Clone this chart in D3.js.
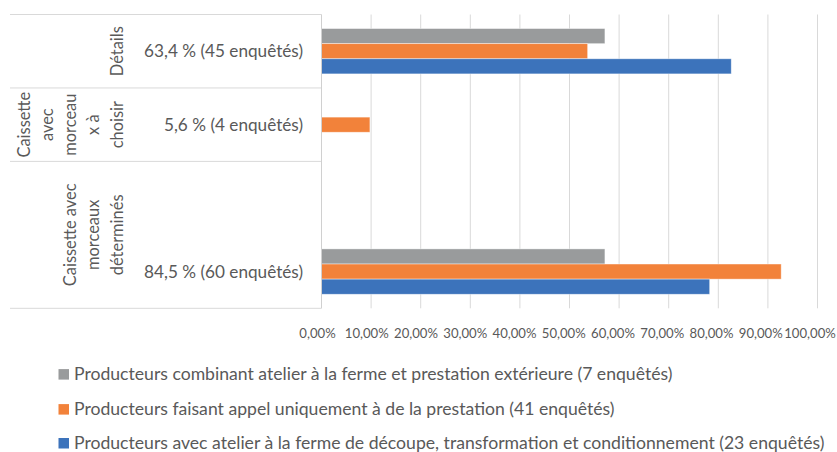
<!DOCTYPE html>
<html>
<head>
<meta charset="utf-8">
<script src="https://cdn.jsdelivr.net/npm/d3@7/dist/d3.min.js"></script>
<style>
  html, body { margin: 0; padding: 0; background: #fff; }
  svg { display: block; }
  text { font-family: Lato, "Open Sans", sans-serif; fill: #595959; }
</style>
</head>
<body>
<svg id="chart" width="837" height="452"></svg>
<script>
// ---------- data ----------
const categories = ["63,4 % (45 enquêtés)", "5,6 % (4 enquêtés)", "", "84,5 % (60 enquêtés)"];
const groupLabels = ["Détails", "Caissette avec morceaux à choisir", "Caissette avec morceaux déterminés"];
const groupLines = [["Détails"], ["Caissette", "avec", "morceau", "x à", "choisir"], ["Caissette avec", "morceaux", "déterminés"]];
const groupStart = [0, 1, 2];
const groupSize = [1, 1, 2];
const seriesNames = [
  "Producteurs combinant atelier à la ferme et prestation extérieure (7 enquêtés)",
  "Producteurs faisant appel uniquement à de la prestation (41 enquêtés)",
  "Producteurs avec atelier à la ferme de découpe, transformation et conditionnement (23 enquêtés)"
];
const seriesGray = [57.14, null, null, 57.14];
const seriesOrange = [53.66, 9.76, null, 92.68];
const seriesBlue = [82.61, null, null, 78.26];
const xTicks = [0, 10, 20, 30, 40, 50, 60, 70, 80, 90, 100];
const xTickLabels = ["0,00%", "10,00%", "20,00%", "30,00%", "40,00%", "50,00%", "60,00%", "70,00%", "80,00%", "90,00%", "100,00%"];

const seriesValues = [seriesGray, seriesOrange, seriesBlue];
const colors = ["#999B9C", "#F2823A", "#3C73BB"];

// ---------- layout ----------
const svg = d3.select("#chart");
const plotLeft = 321.5, plotRight = 817.5, plotTop = 14.5, plotBottom = 308.3;

const x = d3.scaleLinear().domain([0, 100]).range([plotLeft, plotRight]);
const xLabel = d3.scaleLinear().domain([0, 100]).range([317.5, 810]);
const y = d3.scaleBand().domain(d3.range(categories.length)).range([plotTop, plotBottom]).padding(0);
const ys = d3.scaleBand().domain(d3.range(seriesNames.length)).range([0, y.bandwidth()]).paddingInner(0).paddingOuter(0.93);

function fitFont(sample, target, base) {
  const t = svg.append("text").style("font-size", base + "px").text(sample);
  const w = t.node().getComputedTextLength();
  t.remove();
  return base * target / w;
}
const fsLegend = fitFont(seriesNames[2], 751, 16);
const fsCat = fitFont(categories[0], 159, 16);
const fsTick = fitFont("90,00%", 44, 14);
const fsGroup = fitFont("Détails", 50, 16);

// gridlines
svg.append("g").selectAll("line").data(xTicks.filter(d => d > 0)).join("line")
  .attr("x1", d => x(d)).attr("x2", d => x(d))
  .attr("y1", plotTop).attr("y2", plotBottom)
  .attr("stroke", "#D9D9D9").attr("stroke-width", 1);

// bars
const barG = svg.append("g");
seriesValues.forEach((vals, si) => {
  barG.append("g").selectAll("rect")
    .data(vals.map((v, i) => ({ v, i })).filter(d => d.v != null))
    .join("rect")
    .attr("x", x(0))
    .attr("y", d => y(d.i) + ys(si))
    .attr("width", d => x(d.v) - x(0))
    .attr("height", ys.bandwidth())
    .attr("fill", colors[si])
    .attr("stroke", "#ffffff").attr("stroke-opacity", 0.55).attr("stroke-width", 0.75);
});

// category table lines
const boundaries = groupStart.map(s => y(s)).concat([plotBottom]);
svg.append("g").selectAll("line").data(boundaries).join("line")
  .attr("x1", 10).attr("x2", plotLeft)
  .attr("y1", d => d).attr("y2", d => d)
  .attr("stroke", "#D9D9D9").attr("stroke-width", 1);

// axis line
svg.append("line")
  .attr("x1", plotLeft).attr("x2", plotLeft)
  .attr("y1", plotTop).attr("y2", plotBottom)
  .attr("stroke", "#D0D0D0").attr("stroke-width", 1);

// inner category labels
svg.append("g").selectAll("text").data(categories).join("text")
  .attr("x", 303)
  .attr("y", (d, i) => y(i) + y.bandwidth() / 2)
  .attr("dy", "0.35em")
  .attr("text-anchor", "end")
  .style("font-size", fsCat + "px")
  .text(d => d);

// outer (group) labels, rotated
groupLines.forEach((lines, gi) => {
  const cy = (y(groupStart[gi]) + y(groupStart[gi] + groupSize[gi] - 1) + y.bandwidth()) / 2;
  const n = lines.length;
  lines.forEach((ln, li) => {
    const cx = 117 - (n - 1 - li) * 23.3;
    svg.append("text")
      .attr("transform", `translate(${cx},${cy}) rotate(-90)`)
      .attr("text-anchor", "middle")
      .attr("dy", "0.35em")
      .style("font-size", fsGroup + "px")
      .text(ln);
  });
});

// x tick labels
svg.append("g").selectAll("text").data(xTicks).join("text")
  .attr("x", d => xLabel(d))
  .attr("y", 333)
  .attr("dy", "0.35em")
  .attr("text-anchor", "middle")
  .style("font-size", fsTick + "px")
  .text((d, i) => xTickLabels[i]);

// legend
const legendY = [374.3, 409.3, 443.2];
const lg = svg.append("g").selectAll("g").data(seriesNames).join("g")
  .attr("transform", (d, i) => `translate(0,${legendY[i]})`);
lg.append("rect").attr("x", 58.5).attr("y", -5.2).attr("width", 10.5).attr("height", 10.5)
  .attr("fill", (d, i) => colors[i]);
lg.append("text").attr("x", 74).attr("dy", "0.35em")
  .style("font-size", fsLegend + "px")
  .text(d => d);
</script>
</body>
</html>
